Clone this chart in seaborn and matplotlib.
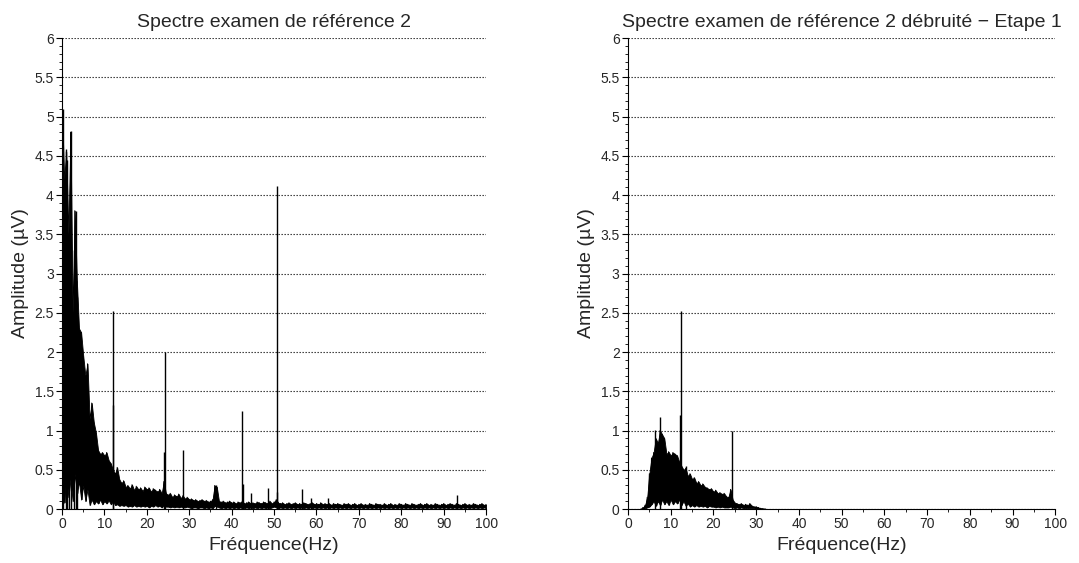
import numpy as np
import matplotlib
matplotlib.use("Agg")
import matplotlib.pyplot as plt
import seaborn as sns
from matplotlib.ticker import MultipleLocator, FuncFormatter

# ---------------- data ----------------
titles = ["Spectre examen de référence 2",
          "Spectre examen de référence 2 débruité \u2212 Etape 1"]
xlabel = "Fréquence(Hz)"
ylabel = "Amplitude (µV)"

# Left spectrum: sampled every 0.5 Hz from 0 to 100 Hz
left_f0, left_step = 0.0, 0.5
left_upper = [
    5.10, 4.20, 4.55, 3.50, 4.80, 2.50, 3.80, 2.90, 2.30, 2.25,   # 0 - 4.5
    1.95, 1.70, 1.85, 1.15, 1.35, 1.10, 0.97, 0.75, 0.70, 0.72,   # 5 - 9.5
    0.68, 0.72, 0.62, 0.58, 0.50, 0.45, 0.53, 0.38, 0.33, 0.36,   # 10 - 14.5
    0.28, 0.30, 0.26, 0.31, 0.24, 0.29, 0.25, 0.27, 0.23, 0.28,   # 15 - 19.5
    0.25, 0.27, 0.22, 0.26, 0.24, 0.22, 0.25, 0.20, 0.35, 0.20,   # 20 - 24.5
    0.18, 0.20, 0.15, 0.18, 0.16, 0.19, 0.14, 0.17, 0.13, 0.15,   # 25 - 29.5
    0.12, 0.13, 0.11, 0.12, 0.10, 0.11, 0.12, 0.10, 0.11, 0.09,   # 30 - 34.5
    0.10, 0.12, 0.30, 0.28, 0.10, 0.09, 0.10, 0.08, 0.09, 0.10,   # 35 - 39.5
    0.08, 0.09, 0.07, 0.09, 0.08, 0.10, 0.07, 0.08, 0.09, 0.07,   # 40 - 44.5
    0.08, 0.07, 0.09, 0.08, 0.07, 0.09, 0.08, 0.07, 0.10, 0.07,   # 45 - 49.5
    0.09, 0.12, 0.08, 0.07, 0.08, 0.06, 0.07, 0.08, 0.06, 0.07,   # 50 - 54.5
    0.08, 0.06, 0.07, 0.06, 0.08, 0.07, 0.06, 0.07, 0.08, 0.06,   # 55 - 59.5
    0.07, 0.06, 0.08, 0.06, 0.07, 0.06, 0.07, 0.05, 0.07, 0.06,   # 60 - 64.5
    0.07, 0.06, 0.05, 0.07, 0.06, 0.07, 0.05, 0.06, 0.07, 0.05,   # 65 - 69.5
    0.06, 0.07, 0.05, 0.06, 0.05, 0.07, 0.06, 0.05, 0.07, 0.06,   # 70 - 74.5
    0.06, 0.05, 0.07, 0.05, 0.06, 0.07, 0.05, 0.06, 0.05, 0.07,   # 75 - 79.5
    0.06, 0.05, 0.07, 0.06, 0.05, 0.07, 0.06, 0.05, 0.06, 0.07,   # 80 - 84.5
    0.05, 0.06, 0.07, 0.05, 0.06, 0.05, 0.07, 0.06, 0.05, 0.06,   # 85 - 89.5
    0.07, 0.05, 0.06, 0.07, 0.06, 0.05, 0.07, 0.06, 0.05, 0.06,   # 90 - 94.5
    0.07, 0.05, 0.06, 0.05, 0.07, 0.06, 0.05,                     # 95 - 98
    0.06, 0.07, 0.05, 0.06,                                       # 98.5 - 100
]
left_lower = [
    0.35, 0.08, 0.42, 0.15, 0.38, 0.10, 0.45, 0.20, 0.35, 0.12,
    0.30, 0.10, 0.25, 0.05, 0.12, 0.06, 0.10, 0.07, 0.12, 0.06,
    0.10, 0.07, 0.11, 0.06, 0.10, 0.05, 0.06, 0.04, 0.05, 0.04,
    0.05, 0.03, 0.04, 0.03, 0.05, 0.03, 0.04, 0.03, 0.04, 0.03,
    0.04, 0.02, 0.04, 0.03, 0.05, 0.03, 0.04, 0.02, 0.05, 0.03,
    0.03, 0.02, 0.03, 0.02, 0.03, 0.02, 0.03, 0.02, 0.02, 0.03,
    0.02, 0.01, 0.02, 0.02, 0.01, 0.02, 0.02, 0.01, 0.02, 0.01,
    0.02, 0.01, 0.04, 0.03, 0.02, 0.01, 0.02, 0.01, 0.02, 0.01,
    0.02, 0.01, 0.02, 0.01, 0.02, 0.01, 0.01, 0.02, 0.01, 0.02,
    0.01, 0.02, 0.01, 0.02, 0.01, 0.02, 0.01, 0.02, 0.01, 0.02,
    0.03, 0.02, 0.01, 0.02, 0.01, 0.02, 0.01, 0.02, 0.01, 0.02,
    0.01, 0.02, 0.01, 0.02, 0.01, 0.02, 0.01, 0.02, 0.01, 0.02,
    0.01, 0.02, 0.01, 0.02, 0.01, 0.02, 0.01, 0.02, 0.01, 0.02,
    0.01, 0.02, 0.01, 0.02, 0.01, 0.02, 0.01, 0.02, 0.01, 0.02,
    0.01, 0.02, 0.01, 0.02, 0.01, 0.02, 0.01, 0.02, 0.01, 0.02,
    0.01, 0.02, 0.01, 0.02, 0.01, 0.02, 0.01, 0.02, 0.01, 0.02,
    0.01, 0.02, 0.01, 0.02, 0.01, 0.02, 0.01, 0.02, 0.01, 0.02,
    0.01, 0.02, 0.01, 0.02, 0.01, 0.02, 0.01, 0.02, 0.01, 0.02,
    0.01, 0.02, 0.01, 0.02, 0.01, 0.02, 0.01, 0.02, 0.01, 0.02,
    0.01, 0.02, 0.01, 0.02, 0.01, 0.02, 0.01,
    0.02, 0.01, 0.02, 0.01,
]
left_peak_freq = [0.15, 0.9, 1.2, 1.6, 2.0, 2.8, 3.2, 3.6, 11.9, 12.1,
                  24.1, 24.3, 28.6, 36.3, 42.5, 42.7, 44.5, 48.6, 50.6,
                  50.8, 56.7, 58.8, 62.8, 93.1]
left_peak_amp = [5.10, 4.58, 4.45, 3.00, 4.82, 3.30, 3.80, 2.70, 1.32, 2.52,
                 0.72, 2.00, 0.75, 0.30, 1.25, 0.32, 0.20, 0.27, 4.12,
                 0.22, 0.25, 0.14, 0.14, 0.18]

# Right (denoised) spectrum: sampled every 0.5 Hz from 3 to 32 Hz, zero elsewhere
right_f0, right_step = 3.0, 0.5
right_upper = [
    0.00, 0.02, 0.05, 0.15, 0.45, 0.65, 0.72, 0.90, 0.84, 1.00,   # 3 - 7.5
    0.95, 0.90, 0.70, 0.73, 0.68, 0.72, 0.70, 0.68, 0.60, 0.55,   # 8 - 12.5
    0.50, 0.52, 0.42, 0.45, 0.38, 0.40, 0.33, 0.35, 0.30, 0.32,   # 13 - 17.5
    0.28, 0.27, 0.25, 0.26, 0.22, 0.24, 0.20, 0.21, 0.19, 0.20,   # 18 - 22.5
    0.16, 0.15, 0.25, 0.12, 0.08, 0.07, 0.06, 0.07, 0.05, 0.06,   # 23 - 27.5
    0.05, 0.07, 0.04, 0.03, 0.03, 0.02, 0.01, 0.005, 0.00,        # 28 - 32
]
right_lower = [
    0.00, 0.00, 0.01, 0.02, 0.03, 0.06, 0.10, 0.04, 0.10, 0.05,
    0.12, 0.06, 0.10, 0.05, 0.12, 0.06, 0.10, 0.07, 0.12, 0.05,
    0.10, 0.04, 0.07, 0.03, 0.05, 0.03, 0.05, 0.03, 0.04, 0.03,
    0.04, 0.02, 0.04, 0.03, 0.03, 0.02, 0.03, 0.02, 0.03, 0.02,
    0.02, 0.02, 0.03, 0.02, 0.01, 0.02, 0.01, 0.02, 0.01, 0.01,
    0.01, 0.01, 0.01, 0.01, 0.00, 0.00, 0.00, 0.00, 0.00,
]
right_peak_freq = [6.3, 7.4, 12.1, 12.3, 13.5, 24.3]
right_peak_amp = [1.01, 1.17, 1.20, 2.52, 0.55, 1.00]

x_ticks = list(range(0, 101, 10))
y_ticks = [0, 0.5, 1, 1.5, 2, 2.5, 3, 3.5, 4, 4.5, 5, 5.5, 6]

# ---------------- drawing ----------------
sns.set_style("ticks")
plt.rcParams['font.family'] = ['Liberation Sans', 'DejaVu Sans']

fig = plt.figure(figsize=(10.79, 5.63), dpi=100)
ax_l = fig.add_axes([0.0575, 0.0959, 0.393, 0.8366])
ax_r = fig.add_axes([0.582, 0.0959, 0.396, 0.8366])


def draw(ax, f0, step, upper, lower, pf, pa, title):
    up = np.asarray(upper, dtype=float)
    lo = np.asarray(lower, dtype=float)
    f = f0 + step * np.arange(len(up))
    # dense band between the lower and upper envelopes
    ax.fill_between(f, lo, up, color="black", linewidth=0.6, zorder=3)
    # zig-zag trace between the read envelope values
    xs = np.column_stack([f, f + step / 2]).ravel()
    ys = np.column_stack([up, lo]).ravel()
    sns.lineplot(x=xs, y=ys, ax=ax, color="black", linewidth=0.7,
                 estimator=None, sort=False, zorder=3)
    ax.vlines(pf, 0, pa, color="black", linewidth=1.0, zorder=3)
    ax.set_xlim(0, 100)
    ax.set_ylim(0, 6)
    ax.set_xticks(x_ticks)
    ax.set_yticks(y_ticks)
    ax.xaxis.set_minor_locator(MultipleLocator(5))
    ax.yaxis.set_minor_locator(MultipleLocator(0.1))
    ax.yaxis.set_major_formatter(FuncFormatter(lambda v, p: f"{v:g}"))
    ax.tick_params(axis="both", which="major", direction="out", length=4,
                   width=0.8, labelsize=10, pad=2, color="black")
    ax.tick_params(axis="both", which="minor", direction="out", length=2,
                   width=0.6, color="black")
    for s in ["top", "right"]:
        ax.spines[s].set_visible(False)
    for s in ["left", "bottom"]:
        ax.spines[s].set_color("black")
        ax.spines[s].set_linewidth(0.8)
    ax.yaxis.grid(True, linestyle=(0, (1.2, 1.5)), color="#222222",
                  linewidth=0.8)
    ax.xaxis.grid(False)
    ax.set_axisbelow(True)
    ax.set_title(title, fontsize=14, pad=8)
    ax.set_xlabel(xlabel, fontsize=14, labelpad=4)
    ax.set_ylabel(ylabel, fontsize=14, labelpad=4)


draw(ax_l, left_f0, left_step, left_upper, left_lower,
     left_peak_freq, left_peak_amp, titles[0])
draw(ax_r, right_f0, right_step, right_upper, right_lower,
     right_peak_freq, right_peak_amp, titles[1])

fig.savefig("out.png", dpi=100)
